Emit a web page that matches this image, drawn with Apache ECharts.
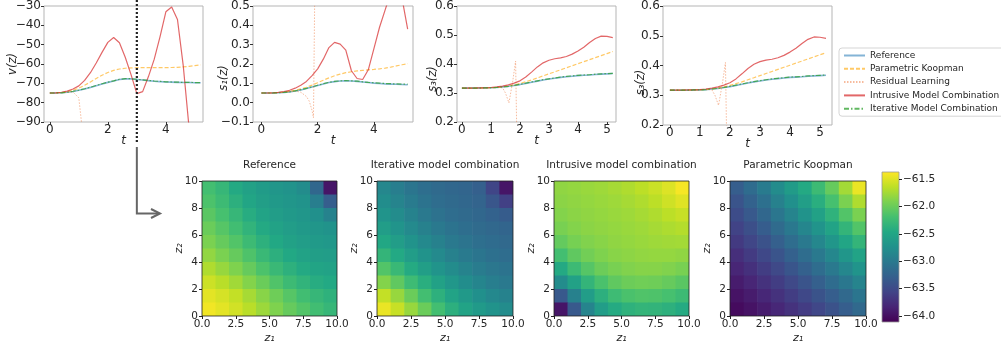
<!DOCTYPE html>
<html>
<head>
<meta charset="utf-8">
<script src="https://cdn.jsdelivr.net/npm/echarts@6/dist/echarts.min.js"></script>
<style>
html, body { margin: 0; padding: 0; background: #fff; }
#chart { width: 1001px; height: 348px; }
</style>
</head>
<body>
<div id="chart"></div>
<script>
// ---- data ----
const seriesNames = ['Reference', 'Parametric Koopman', 'Residual Learning', 'Intrusive Model Combination', 'Iterative Model Combination'];

const tGrid = [0, 0.2, 0.4, 0.6, 0.8, 1.0, 1.2, 1.4, 1.6, 1.8, 2.0, 2.2, 2.4, 2.6, 2.8, 3.0, 3.2, 3.4, 3.6, 3.8, 4.0, 4.2, 4.4, 4.6, 4.8, 5.0, 5.2];

// v(z)
const vRef  = [-75, -75, -74.9, -74.6, -74.2, -73.6, -72.9, -72.1, -71.2, -70.3, -69.5, -68.8, -68.0, -67.7, -67.7, -68.0, -68.3, -68.6, -68.9, -69.1, -69.3, -69.4, -69.5, -69.6, -69.6, -69.7, -69.7];
const vIter = [-75, -75, -74.9, -74.6, -74.1, -73.5, -72.8, -72.0, -71.1, -70.2, -69.4, -68.7, -67.9, -67.6, -67.6, -67.9, -68.2, -68.5, -68.8, -69.0, -69.2, -69.3, -69.4, -69.5, -69.5, -69.6, -69.6];
const vKoop = [-75, -75, -74.8, -74.3, -73.6, -72.5, -71.0, -69.3, -67.5, -65.8, -64.4, -63.3, -62.6, -62.2, -62.0, -61.9, -61.9, -61.9, -61.9, -61.9, -61.9, -61.8, -61.7, -61.5, -61.2, -60.8, -60.5];
const vIntr = [-75, -74.9, -74.6, -74.0, -72.9, -71.3, -68.5, -64.5, -59.5, -54.0, -48.8, -46.3, -49.0, -56.5, -65.5, -75.3, -74.3, -66.5, -57.5, -45.8, -33.0, -30.5, -37.0, -61.0, -93.0, -130, -170];
const vResT = [0, 0.2, 0.4, 0.6, 0.8, 1.0, 1.2];
const vRes  = [-75, -75, -74.9, -74.6, -74.5, -77.5, -105];

// s1(z)
const s1Ref  = [0.050, 0.050, 0.050, 0.051, 0.053, 0.056, 0.060, 0.066, 0.073, 0.081, 0.089, 0.097, 0.104, 0.109, 0.112, 0.113, 0.112, 0.110, 0.107, 0.104, 0.101, 0.099, 0.097, 0.096, 0.095, 0.094, 0.093];
const s1Iter = [0.050, 0.050, 0.050, 0.051, 0.053, 0.056, 0.061, 0.067, 0.074, 0.082, 0.090, 0.098, 0.105, 0.110, 0.113, 0.114, 0.113, 0.111, 0.108, 0.105, 0.103, 0.101, 0.099, 0.098, 0.097, 0.096, 0.096];
const s1Koop = [0.050, 0.050, 0.051, 0.052, 0.055, 0.059, 0.064, 0.071, 0.080, 0.091, 0.103, 0.116, 0.128, 0.139, 0.148, 0.155, 0.160, 0.164, 0.167, 0.170, 0.172, 0.175, 0.179, 0.184, 0.190, 0.196, 0.202];
const s1Intr = [0.050, 0.050, 0.051, 0.053, 0.057, 0.064, 0.075, 0.090, 0.110, 0.140, 0.175, 0.225, 0.285, 0.312, 0.303, 0.272, 0.165, 0.125, 0.120, 0.170, 0.280, 0.390, 0.480, 0.570, 0.610, 0.540, 0.380];
const s1ResT = [0, 0.4, 0.8, 1.2, 1.4, 1.6, 1.7, 1.8, 1.85, 1.9];
const s1Res  = [0.050, 0.051, 0.054, 0.060, 0.054, 0.032, 0.008, -0.040, -0.078, 0.62];

// s3(z)
const s3Ref  = [0.317, 0.317, 0.317, 0.317, 0.318, 0.318, 0.319, 0.321, 0.323, 0.326, 0.329, 0.333, 0.337, 0.341, 0.345, 0.348, 0.351, 0.354, 0.356, 0.358, 0.360, 0.361, 0.362, 0.364, 0.365, 0.366, 0.367];
const s3Iter = [0.317, 0.317, 0.317, 0.317, 0.318, 0.318, 0.319, 0.321, 0.323, 0.326, 0.330, 0.334, 0.338, 0.342, 0.346, 0.349, 0.352, 0.355, 0.357, 0.359, 0.361, 0.362, 0.363, 0.365, 0.366, 0.367, 0.368];
const s3Koop = [0.317, 0.317, 0.317, 0.317, 0.318, 0.318, 0.319, 0.321, 0.324, 0.328, 0.333, 0.339, 0.345, 0.352, 0.359, 0.366, 0.373, 0.380, 0.387, 0.394, 0.401, 0.408, 0.415, 0.422, 0.429, 0.436, 0.443];
const s3Intr = [0.317, 0.317, 0.317, 0.318, 0.318, 0.319, 0.321, 0.324, 0.328, 0.334, 0.342, 0.355, 0.372, 0.390, 0.404, 0.413, 0.418, 0.421, 0.426, 0.434, 0.445, 0.458, 0.474, 0.488, 0.496, 0.495, 0.491];
const s3ResT = [0, 0.4, 0.8, 1.2, 1.4, 1.5, 1.62, 1.75, 1.85, 1.9];
const s3Res  = [0.317, 0.317, 0.318, 0.320, 0.318, 0.300, 0.266, 0.340, 0.410, 0.100];

// tick labels
const vTicks = [-90, -80, -70, -60, -50, -40, -30];
const s1Ticks = [-0.1, 0, 0.1, 0.2, 0.3, 0.4, 0.5];
const s3Ticks = [0.2, 0.3, 0.4, 0.5, 0.6];
const tTicks2 = [0, 2, 4];
const tTicks1 = [0, 1, 2, 3, 4, 5];
const heatXTicks = [0, 2.5, 5, 7.5, 10];
const heatYTicks = [0, 2, 4, 6, 8, 10];
const cbTicks = [-64.0, -63.5, -63.0, -62.5, -62.0, -61.5];
const cbRange = [-64.11, -61.37];

// heatmap cells: centre coordinates, rows listed from z2 = 9.5 (top) down to 0.5
const zCells = [0.5, 1.5, 2.5, 3.5, 4.5, 5.5, 6.5, 7.5, 8.5, 9.5];

const heatRef = [
  [-62.20, -62.30, -62.45, -62.55, -62.62, -62.68, -62.72, -62.80, -63.20, -63.95],
  [-62.15, -62.25, -62.38, -62.50, -62.58, -62.64, -62.68, -62.72, -62.95, -63.30],
  [-62.08, -62.18, -62.30, -62.42, -62.52, -62.60, -62.64, -62.68, -62.75, -62.90],
  [-62.00, -62.10, -62.22, -62.34, -62.45, -62.54, -62.60, -62.64, -62.68, -62.72],
  [-61.92, -62.02, -62.12, -62.25, -62.37, -62.47, -62.55, -62.60, -62.63, -62.66],
  [-61.82, -61.92, -62.02, -62.14, -62.27, -62.38, -62.47, -62.54, -62.58, -62.60],
  [-61.70, -61.80, -61.90, -62.02, -62.15, -62.27, -62.37, -62.45, -62.51, -62.54],
  [-61.58, -61.66, -61.76, -61.88, -62.00, -62.13, -62.25, -62.34, -62.42, -62.46],
  [-61.48, -61.54, -61.62, -61.74, -61.86, -61.98, -62.10, -62.22, -62.30, -62.36],
  [-61.42, -61.48, -61.56, -61.66, -61.78, -61.90, -62.02, -62.12, -62.22, -62.30]
];
const heatIter = [
  [-62.85, -62.95, -63.05, -63.12, -63.17, -63.20, -63.22, -63.28, -63.55, -63.95],
  [-62.78, -62.88, -62.98, -63.07, -63.13, -63.17, -63.20, -63.23, -63.38, -63.60],
  [-62.70, -62.80, -62.90, -63.00, -63.08, -63.13, -63.17, -63.20, -63.25, -63.32],
  [-62.60, -62.70, -62.82, -62.92, -63.00, -63.07, -63.12, -63.16, -63.19, -63.22],
  [-62.48, -62.60, -62.72, -62.83, -62.92, -63.00, -63.06, -63.11, -63.15, -63.18],
  [-62.32, -62.46, -62.60, -62.72, -62.82, -62.91, -62.99, -63.05, -63.10, -63.13],
  [-62.12, -62.28, -62.44, -62.58, -62.70, -62.80, -62.89, -62.97, -63.03, -63.07],
  [-61.88, -62.05, -62.24, -62.40, -62.55, -62.67, -62.78, -62.87, -62.95, -63.00],
  [-61.62, -61.80, -62.00, -62.20, -62.37, -62.52, -62.65, -62.75, -62.84, -62.90],
  [-61.45, -61.60, -61.80, -62.00, -62.20, -62.38, -62.52, -62.63, -62.72, -62.80]
];
const heatIntr = [
  [-61.83, -61.81, -61.79, -61.77, -61.74, -61.70, -61.65, -61.59, -61.51, -61.40],
  [-61.85, -61.83, -61.81, -61.79, -61.77, -61.74, -61.70, -61.65, -61.57, -61.50],
  [-61.88, -61.85, -61.83, -61.81, -61.79, -61.77, -61.74, -61.70, -61.65, -61.60],
  [-61.93, -61.88, -61.85, -61.83, -61.81, -61.79, -61.77, -61.74, -61.71, -61.68],
  [-62.03, -61.94, -61.89, -61.86, -61.83, -61.81, -61.79, -61.77, -61.76, -61.75],
  [-62.20, -62.05, -61.96, -61.90, -61.86, -61.84, -61.82, -61.81, -61.81, -61.83],
  [-62.45, -62.25, -62.10, -61.99, -61.93, -61.89, -61.87, -61.87, -61.89, -61.93],
  [-62.80, -62.55, -62.32, -62.16, -62.05, -61.99, -61.97, -61.98, -62.02, -62.08],
  [-63.35, -62.92, -62.60, -62.38, -62.24, -62.16, -62.13, -62.14, -62.18, -62.25],
  [-63.95, -63.35, -62.88, -62.60, -62.44, -62.36, -62.32, -62.33, -62.37, -62.44]
];
const heatKoop = [
  [-63.30, -63.15, -62.98, -62.80, -62.62, -62.45, -62.25, -62.02, -61.75, -61.45],
  [-63.40, -63.25, -63.10, -62.92, -62.75, -62.58, -62.40, -62.18, -61.92, -61.70],
  [-63.48, -63.35, -63.20, -63.04, -62.88, -62.72, -62.55, -62.35, -62.12, -61.92],
  [-63.57, -63.45, -63.31, -63.16, -63.01, -62.86, -62.70, -62.52, -62.32, -62.12],
  [-63.65, -63.54, -63.42, -63.28, -63.14, -63.00, -62.85, -62.68, -62.50, -62.32],
  [-63.74, -63.64, -63.52, -63.40, -63.27, -63.14, -63.00, -62.85, -62.68, -62.52],
  [-63.82, -63.73, -63.62, -63.51, -63.39, -63.27, -63.14, -63.00, -62.85, -62.70],
  [-63.90, -63.82, -63.72, -63.62, -63.51, -63.40, -63.28, -63.15, -63.02, -62.88],
  [-63.97, -63.90, -63.81, -63.72, -63.62, -63.52, -63.41, -63.30, -63.18, -63.05],
  [-64.03, -63.97, -63.89, -63.81, -63.72, -63.63, -63.53, -63.42, -63.30, -63.18]
];

// ---- styling / layout ----
const viridis = ['#440154', '#482475', '#414487', '#355f8d', '#2a788e', '#21918c', '#22a884', '#44bf70', '#7ad151', '#bddf26', '#fde725'];
const FONT = 'DejaVu Sans';
const TXT = '#262626';

const lineStyles = {
  'Reference': { color: 'rgba(31,119,180,0.55)', width: 1.6, type: 'solid' },
  'Parametric Koopman': { color: 'rgba(255,165,0,0.6)', width: 1.2, type: [4, 2] },
  'Residual Learning': { color: 'rgba(240,120,60,0.5)', width: 1.0, type: [1.5, 1.5] },
  'Intrusive Model Combination': { color: 'rgba(214,39,40,0.7)', width: 1.2, type: 'solid' },
  'Iterative Model Combination': { color: 'rgba(44,160,44,0.75)', width: 1.2, type: [5, 2, 1.5, 2] }
};

function pairs(ts, vs) {
  return ts.map((t, i) => [t, vs[i]]);
}
function minus(s) {
  return s.replace('-', '\u2212');
}

// shift: right padding on the rotated y name moves it down the axis
const topPanels = [
  { box: { left: 44, top: 2, width: 159, height: 120 }, x: [-0.2, 5.28], xt: tTicks2, y: [-90, -30], yt: vTicks, dec: 0, name: 'v(z)', gap: 25, shift: 0,
    lines: [pairs(tGrid, vRef), pairs(tGrid, vKoop), pairs(vResT, vRes), pairs(tGrid, vIntr), pairs(tGrid, vIter)] },
  { box: { left: 253, top: 4, width: 160, height: 118 }, x: [-0.3, 5.39], xt: tTicks2, y: [-0.1, 0.5], yt: s1Ticks, dec: 1, name: 's\u2081(z)', gap: 23, shift: 28,
    lines: [pairs(tGrid, s1Ref), pairs(tGrid, s1Koop), pairs(s1ResT, s1Res), pairs(tGrid, s1Intr), pairs(tGrid, s1Iter)] },
  { box: { left: 457, top: 5, width: 159, height: 117 }, x: [-0.17, 5.31], xt: tTicks1, y: [0.2, 0.6], yt: s3Ticks, dec: 1, name: 's\u2083(z)', gap: 18, shift: 30,
    lines: [pairs(tGrid, s3Ref), pairs(tGrid, s3Koop), pairs(s3ResT, s3Res), pairs(tGrid, s3Intr), pairs(tGrid, s3Iter)] },
  { box: { left: 663, top: 5, width: 169, height: 120 }, x: [-0.23, 5.4], xt: tTicks1, y: [0.2, 0.6], yt: s3Ticks, dec: 1, name: 's\u2083(z)', gap: 16, shift: 34,
    lines: [pairs(tGrid, s3Ref), pairs(tGrid, s3Koop), pairs(s3ResT, s3Res), pairs(tGrid, s3Intr), pairs(tGrid, s3Iter)] }
];

const heatPanels = [
  { title: 'Reference', rows: heatRef, left: 202, width: 135 },
  { title: 'Iterative model combination', rows: heatIter, left: 377, width: 136 },
  { title: 'Intrusive model combination', rows: heatIntr, left: 554, width: 135 },
  { title: 'Parametric Koopman', rows: heatKoop, left: 730, width: 136 }
];

function cells(rows) {
  const out = [];
  rows.forEach((row, r) => {
    const z2 = zCells[zCells.length - 1 - r];
    row.forEach((v, c) => out.push([zCells[c], z2, v]));
  });
  return out;
}

function renderCell(params, api) {
  const x = api.value(0), y = api.value(1);
  const p0 = api.coord([x - 0.5, y + 0.5]);
  const p1 = api.coord([x + 0.5, y - 0.5]);
  return {
    type: 'rect',
    shape: { x: p0[0], y: p0[1], width: p1[0] - p0[0] + 0.6, height: p1[1] - p0[1] + 0.6 },
    style: { fill: api.visual('color') }
  };
}

function renderColorbar(params, api) {
  const p0 = api.coord([api.value(0), api.value(3)]);
  const p1 = api.coord([api.value(2), api.value(1)]);
  const stops = viridis.map((c, i) => ({ offset: i / (viridis.length - 1), color: c }));
  return {
    type: 'rect',
    shape: { x: p0[0], y: p0[1], width: p1[0] - p0[0], height: p1[1] - p0[1] },
    style: { fill: new echarts.graphic.LinearGradient(0, 1, 0, 0, stops) }
  };
}

const grids = [], xAxes = [], yAxes = [], series = [], titles = [];
const topFont = 12;

topPanels.forEach((p, gi) => {
  grids.push(Object.assign({ show: true, borderColor: '#b5b5b5', borderWidth: 1, backgroundColor: 'transparent' }, p.box));
  xAxes.push({
    gridIndex: gi, type: 'value', min: p.x[0], max: p.x[1],
    axisLine: { show: false, onZero: false },
    axisTick: { show: true, length: 3, customValues: p.xt, lineStyle: { color: '#333' } },
    axisLabel: { customValues: p.xt, margin: 2, fontSize: topFont, color: TXT, fontFamily: FONT },
    splitLine: { show: false },
    name: 't', nameLocation: 'middle', nameGap: 13, nameMoveOverlap: false,
    nameTextStyle: { fontStyle: 'italic', fontSize: topFont, color: TXT, fontFamily: FONT }
  });
  yAxes.push({
    gridIndex: gi, type: 'value', min: p.y[0], max: p.y[1],
    axisLine: { show: false, onZero: false },
    axisTick: { show: true, length: 3, customValues: p.yt, lineStyle: { color: '#333' } },
    axisLabel: { customValues: p.yt, margin: 3, fontSize: topFont, color: TXT, fontFamily: FONT,
      formatter: v => minus(v.toFixed(p.dec)) },
    splitLine: { show: false },
    name: p.name, nameLocation: 'middle', nameGap: p.gap, nameRotate: 90, nameMoveOverlap: false,
    nameTextStyle: { fontStyle: 'italic', fontSize: 11.5, color: TXT, fontFamily: FONT, padding: [0, p.shift, 0, 0] }
  });
  p.lines.forEach((data, k) => {
    const name = seriesNames[k];
    const ls = lineStyles[name];
    series.push({
      name: name, type: 'line', xAxisIndex: gi, yAxisIndex: gi, data: data,
      symbol: 'none', clip: true, animation: false,
      lineStyle: { color: ls.color, width: ls.width, type: ls.type },
      itemStyle: { color: ls.color }
    });
  });
});

const heatSeriesIdx = [];
heatPanels.forEach((p, k) => {
  const gi = grids.length;
  grids.push({ show: true, left: p.left, top: 181, width: p.width, height: 135, borderColor: '#222', borderWidth: 0.8, backgroundColor: 'transparent', z: 10 });
  xAxes.push({
    gridIndex: gi, type: 'value', min: 0, max: 10, z: 10,
    axisLine: { show: false, onZero: false },
    axisTick: { show: true, length: 3, customValues: heatXTicks, lineStyle: { color: '#222' } },
    axisLabel: { customValues: heatXTicks, margin: 3, fontSize: 10.5, color: TXT, fontFamily: FONT, formatter: v => v.toFixed(1) },
    splitLine: { show: false },
    name: 'z\u2081', nameLocation: 'middle', nameGap: 17, nameMoveOverlap: false,
    nameTextStyle: { fontStyle: 'italic', fontSize: 11, color: TXT, fontFamily: FONT }
  });
  yAxes.push({
    gridIndex: gi, type: 'value', min: 0, max: 10, z: 10,
    axisLine: { show: false, onZero: false },
    axisTick: { show: true, length: 3, customValues: heatYTicks, lineStyle: { color: '#222' } },
    axisLabel: { customValues: heatYTicks, margin: 4, fontSize: 10.5, color: TXT, fontFamily: FONT },
    splitLine: { show: false },
    name: 'z\u2082', nameLocation: 'middle', nameGap: 17, nameRotate: 90, nameMoveOverlap: false,
    nameTextStyle: { fontStyle: 'italic', fontSize: 11, color: TXT, fontFamily: FONT }
  });
  heatSeriesIdx.push(series.length);
  series.push({
    type: 'custom', xAxisIndex: gi, yAxisIndex: gi, renderItem: renderCell,
    data: cells(p.rows), encode: { x: 0, y: 1 }, dimensions: ['z1', 'z2', 'v'],
    clip: true, animation: false, silent: true
  });
  titles.push({
    text: p.title, left: p.left + p.width / 2, top: 160, textAlign: 'center', padding: 0,
    textStyle: { fontSize: 10.5, fontWeight: 'normal', color: TXT, fontFamily: FONT }
  });
});

// colorbar
const cbGrid = grids.length;
grids.push({ show: true, left: 882, top: 172, width: 17, height: 150, borderColor: '#999', borderWidth: 0.8, backgroundColor: 'transparent', z: 10 });
xAxes.push({ gridIndex: cbGrid, type: 'value', min: 0, max: 1, show: false });
yAxes.push({
  gridIndex: cbGrid, type: 'value', min: cbRange[0], max: cbRange[1], position: 'right', z: 10,
  axisLine: { show: false, onZero: false },
  axisTick: { show: true, length: 3, customValues: cbTicks, lineStyle: { color: '#222' } },
  axisLabel: { customValues: cbTicks, margin: 4, fontSize: 10.5, color: TXT, fontFamily: FONT, formatter: v => minus(v.toFixed(1)) },
  splitLine: { show: false }
});
series.push({
  type: 'custom', xAxisIndex: cbGrid, yAxisIndex: cbGrid, renderItem: renderColorbar,
  data: [[0, cbRange[0], 1, cbRange[1]]], encode: { x: [0, 2], y: [1, 3] }, animation: false, silent: true
});

const chart = echarts.init(document.getElementById('chart'), null, { renderer: 'canvas' });
chart.setOption({
  animation: false,
  textStyle: { fontFamily: FONT },
  title: titles,
  legend: {
    orient: 'vertical', left: 839, top: 48, data: seriesNames, selectedMode: false,
    itemWidth: 21, itemHeight: 9, itemGap: 4.3, padding: [3, 5, 3, 4],
    itemStyle: { color: 'transparent', borderColor: 'transparent', borderWidth: 0, opacity: 0 },
    textStyle: { fontSize: 9, color: TXT, fontFamily: FONT },
    backgroundColor: '#fff', borderColor: '#d5d5d5', borderWidth: 1, borderRadius: 3
  },
  visualMap: {
    type: 'continuous', show: false, min: cbRange[0], max: cbRange[1], dimension: 2,
    seriesIndex: heatSeriesIdx, inRange: { color: viridis }
  },
  grid: grids,
  xAxis: xAxes,
  yAxis: yAxes,
  series: series
});

// annotation: dotted marker at t = 3 in the first panel, arrow down to the heatmaps
const px = chart.convertToPixel({ xAxisIndex: 0 }, 3);
chart.setOption({
  graphic: [
    { type: 'line', z: 100, shape: { x1: px, y1: 0, x2: px, y2: 143 }, style: { stroke: '#222', lineWidth: 2.2, lineDash: [2, 2] } },
    { type: 'polyline', z: 100, shape: { points: [[px, 147], [px, 213.5], [159, 213.5]] }, style: { stroke: '#666', lineWidth: 2, fill: null } },
    { type: 'polyline', z: 100, shape: { points: [[151, 209], [160, 213.5], [151, 218]] }, style: { stroke: '#666', lineWidth: 2, fill: null } }
  ]
});
</script>
</body>
</html>
